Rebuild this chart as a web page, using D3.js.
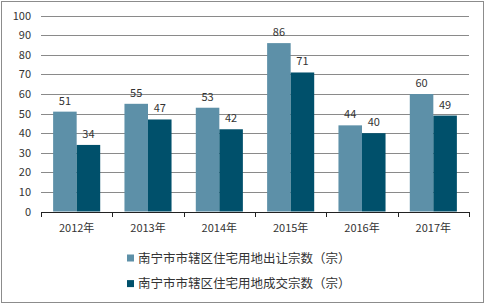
<!DOCTYPE html>
<html>
<head>
<meta charset="utf-8">
<script src="https://cdn.jsdelivr.net/npm/d3@7"></script>
<style>
  body { margin: 0; background: #fff; }
  text { font-family: "Noto Sans CJK SC", "Noto Sans", sans-serif; fill: #333; }
</style>
</head>
<body>
<script>
const years = ['2012年', '2013年', '2014年', '2015年', '2016年', '2017年']
const transferred = [51, 55, 53, 86, 44, 60]
const traded = [34, 47, 42, 71, 40, 49]
const seriesNames = ['南宁市市辖区住宅用地出让宗数（宗）', '南宁市市辖区住宅用地成交宗数（宗）']
const colors = ['#5d90a8', '#00506b']
const yTicks = [0, 10, 20, 30, 40, 50, 60, 70, 80, 90, 100]

const m = { width: 485, height: 305, left: 41, right: 469, top: 15.7, bottom: 211.5 }

const svg = d3.select('body').append('svg')
    .attr('width', m.width)
    .attr('height', m.height)

// outer frame
svg.append('rect')
    .attr('x', 1.5).attr('y', 1.5)
    .attr('width', m.width - 3).attr('height', m.height - 4)
    .attr('fill', 'none')
    .attr('stroke', '#8c8c8c')

const x = d3.scaleBand()
    .domain(years)
    .range([m.left, m.right])
    .paddingInner(0.34)
    .paddingOuter(0.17)

const x1 = d3.scaleBand()
    .domain([0, 1])
    .range([0, x.bandwidth()])

const y = d3.scaleLinear()
    .domain([0, 100])
    .range([m.bottom, m.top])

// gridlines
svg.append('g').selectAll('line')
    .data(yTicks.slice(1))
    .enter()
    .append('line')
        .attr('x1', m.left).attr('x2', m.right)
        .attr('y1', d => Math.round(y(d)) + 0.5)
        .attr('y2', d => Math.round(y(d)) + 0.5)
        .attr('stroke', '#8a8a8a')

// y labels
svg.append('g').selectAll('text')
    .data(yTicks)
    .enter()
    .append('text')
        .attr('x', 31)
        .attr('y', d => y(d) + 4)
        .attr('text-anchor', 'end')
        .style('font-size', '11px')
        .text(d => d)

const groups = svg.append('g').selectAll('g')
    .data(years)
    .enter()
    .append('g')
        .attr('transform', d => 'translate(' + x(d) + ',0)')

const rows = [transferred, traded]

groups.each(function(year, i) {
    const g = d3.select(this)
    rows.forEach(function(row, s) {
        g.append('rect')
            .attr('x', x1(s))
            .attr('y', y(row[i]))
            .attr('width', x1.bandwidth())
            .attr('height', y(0) - y(row[i]))
            .attr('fill', colors[s])
        g.append('text')
            .attr('x', x1(s) + x1.bandwidth() / 2)
            .attr('y', y(row[i]) - 7)
            .attr('text-anchor', 'middle')
            .style('font-size', '11px')
            .text(row[i])
    })
})

// x axis baseline and ticks
svg.append('line')
    .attr('x1', m.left).attr('x2', m.right)
    .attr('y1', Math.round(m.bottom) + 0.5).attr('y2', Math.round(m.bottom) + 0.5)
    .attr('stroke', '#222')

const step = x.step()
svg.append('g').selectAll('line')
    .data(d3.range(years.length + 1))
    .enter()
    .append('line')
        .attr('x1', d => Math.round(m.left + d * (m.right - m.left) / years.length) + 0.5)
        .attr('x2', d => Math.round(m.left + d * (m.right - m.left) / years.length) + 0.5)
        .attr('y1', Math.round(m.bottom))
        .attr('y2', Math.round(m.bottom) + 5)
        .attr('stroke', '#222')

svg.append('g').selectAll('text')
    .data(years)
    .enter()
    .append('text')
        .attr('x', d => x(d) + x.bandwidth() / 2)
        .attr('y', 232)
        .attr('text-anchor', 'middle')
        .style('font-size', '11px')
        .text(d => d)

// legend
const legend = svg.append('g').selectAll('g')
    .data(seriesNames)
    .enter()
    .append('g')
        .attr('transform', (d, i) => 'translate(127,' + (258 + i * 25.6) + ')')

legend.append('rect')
    .attr('x', 0).attr('y', -3.5)
    .attr('width', 7).attr('height', 7)
    .attr('fill', (d, i) => colors[i])

legend.append('text')
    .attr('x', 11)
    .attr('y', 4.5)
    .style('font-size', '12.5px')
    .text(d => d)
</script>
</body>
</html>
